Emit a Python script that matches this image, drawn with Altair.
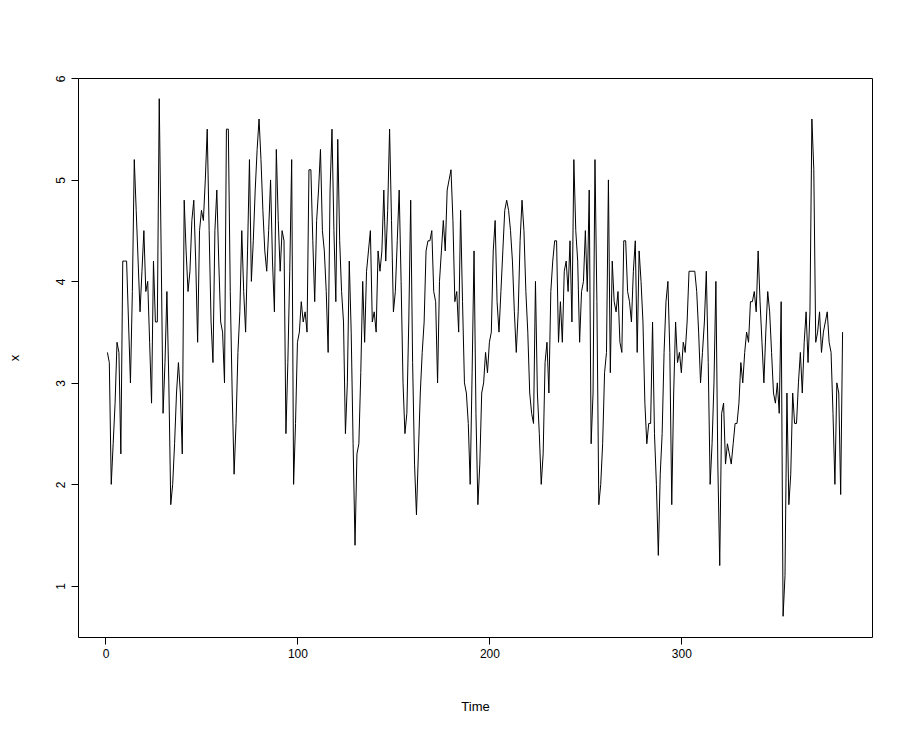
import altair as alt
import pandas as pd

# series values (time 1..384), in chunks
seg_a = [3.3, 3.2, 2.0, 2.4, 2.8, 3.4, 3.3, 2.3, 4.2, 4.2, 4.2, 3.6, 3.0, 3.9, 5.2, 4.7, 4.2,
         3.7, 4.1, 4.5, 3.9, 4.0, 3.4, 2.8, 4.2, 3.6, 3.6, 5.8, 4.3, 2.7, 3.2, 3.9, 3.0, 1.8]
seg_b = [2.0, 2.4, 2.9, 3.2, 2.9, 2.3, 4.8, 4.3, 3.9, 4.1, 4.6, 4.8, 4.2, 3.4, 4.5, 4.7, 4.6,
         5.0, 5.5, 4.5, 3.6, 3.2, 4.5, 4.9, 4.2, 3.6, 3.5, 3.0, 5.5, 5.5, 3.9, 2.9, 2.1]
seg_c = [2.6, 3.3, 3.7, 4.5, 3.9, 3.5, 4.3, 5.2, 4.0, 4.4, 4.9, 5.3, 5.6, 5.2, 4.7, 4.3, 4.1,
         4.5, 5.0, 4.2, 3.7, 5.3, 4.6, 4.1, 4.5, 4.4, 2.5, 3.2, 4.1, 5.2, 2.0]
seg_d = [2.6, 3.4, 3.5, 3.8, 3.6, 3.7, 3.5, 5.1, 5.1, 4.4, 3.8, 4.6, 4.9, 5.3, 4.5, 4.3, 3.9,
         3.3, 4.9, 5.5, 4.5, 3.8, 5.4, 4.4, 3.9, 3.6, 2.5, 3.0, 4.2, 3.5, 2.4, 1.4]
seg_e = [2.3, 2.4, 3.1, 4.0, 3.4, 4.1, 4.3, 4.5, 3.6, 3.7, 3.5, 4.3, 4.1, 4.3, 4.9, 4.2, 4.7,
         5.5, 4.6, 3.7, 3.9, 4.4, 4.9, 4.0, 3.0, 2.5, 2.7, 3.6, 4.8, 3.2, 2.2, 1.7]
seg_f = [2.3, 2.9, 3.3, 3.6, 4.3, 4.4, 4.4, 4.5, 3.9, 3.8, 3.0, 4.0, 4.3, 4.6, 4.3, 4.9, 5.0,
         5.1, 4.6, 3.8, 3.9, 3.5, 4.7, 3.8, 3.0, 2.9, 2.6, 2.0, 3.1, 4.3, 2.7, 1.8, 2.2]
seg_g = [2.9, 3.0, 3.3, 3.1, 3.4, 3.5, 4.3, 4.6, 3.8, 3.5, 3.9, 4.3, 4.7, 4.8, 4.7, 4.5, 4.2,
         3.7, 3.3, 3.7, 4.4, 4.8, 4.5, 3.9, 3.5, 2.9, 2.7, 2.6, 4.0, 2.9, 2.5, 2.0, 2.3]
seg_h = [3.2, 3.4, 2.9, 3.9, 4.2, 4.4, 4.4, 3.4, 3.8, 3.4, 4.1, 4.2, 3.9, 4.4, 3.6, 5.2, 4.5,
         4.2, 3.4, 3.9, 4.0, 4.5, 3.9, 4.9, 2.4, 2.9, 5.2, 3.8, 1.8, 2.0, 2.4, 3.1, 3.3]
seg_i = [5.0, 3.1, 4.2, 3.8, 3.7, 3.9, 3.4, 3.3, 4.4, 4.4, 3.9, 3.8, 3.6, 4.1, 4.4, 3.3, 4.3,
         4.0, 3.6, 2.8, 2.4, 2.6, 2.6, 3.6, 2.5, 2.0, 1.3, 2.1, 2.5, 3.3]
seg_j = [3.8, 4.0, 3.3, 1.8, 2.9, 3.6, 3.2, 3.3, 3.1, 3.4, 3.3, 3.6, 4.1, 4.1, 4.1, 4.1, 3.9,
         3.5, 3.0, 3.3, 3.6, 4.1, 3.2, 2.0, 2.4, 3.0, 4.0, 2.2, 1.2, 2.7, 2.8, 2.2, 2.4, 2.3]
seg_k = [2.2, 2.4, 2.6, 2.6, 2.8, 3.2, 3.0, 3.3, 3.5, 3.4, 3.8, 3.8, 3.9, 3.7, 4.3, 3.8, 3.4,
         3.0, 3.5, 3.9, 3.7, 3.3, 2.9, 2.8, 3.0, 2.7, 3.8, 0.7, 1.1, 2.9, 1.8, 2.1, 2.9, 2.6]
seg_l = [2.6, 3.0, 3.3, 2.9, 3.4, 3.7, 3.2, 3.7, 5.6, 5.1, 3.4, 3.5, 3.7, 3.3, 3.5, 3.6, 3.7,
         3.4, 3.3, 2.7, 2.0, 3.0, 2.9, 1.9, 3.5]

values = seg_a + seg_b + seg_c + seg_d + seg_e + seg_f + seg_g + seg_h + seg_i + seg_j + seg_k + seg_l
n = len(values)
df = pd.DataFrame({"Time": list(range(1, n + 1)), "x": values})

x_ticks = [0, 100, 200, 300]
y_ticks = [1, 2, 3, 4, 5, 6]

xmin, xmax = 1 - 0.04 * (n - 1), n + 0.04 * (n - 1)
vmin, vmax = min(values), max(values)
ypad = 0.04 * (vmax - vmin)

FONT = "Liberation Sans"

chart = alt.Chart(df).mark_line(color="black", strokeWidth=1).encode(
    x=alt.X("Time:Q", scale=alt.Scale(domain=[xmin, xmax], nice=False, zero=False),
            axis=alt.Axis(values=x_ticks, title="Time", format="d")),
    y=alt.Y("x:Q", scale=alt.Scale(domain=[vmin - ypad, vmax + ypad], nice=False, zero=False),
            axis=alt.Axis(values=y_ticks, title="x", format="d",
                          labelAngle=270, labelAlign="center", labelBaseline="bottom")),
).properties(
    width=794, height=559,
    autosize=alt.AutoSizeParams(type="none"),
    padding={"left": 70, "top": 70, "right": 20, "bottom": 80},
).configure_view(
    stroke="black", strokeWidth=1
).configure_axis(
    domain=False, grid=False, ticks=True, tickColor="black", tickSize=7, tickWidth=1,
    labelFont=FONT, labelFontSize=12, labelColor="black", labelPadding=4,
    titleFont=FONT, titleFontSize=13, titleFontWeight="normal", titleColor="black",
).configure_axisX(
    titlePadding=41
).configure_axisY(
    titlePadding=33
)

chart.save("out.html", embed_options={"renderer": "svg", "actions": False})
